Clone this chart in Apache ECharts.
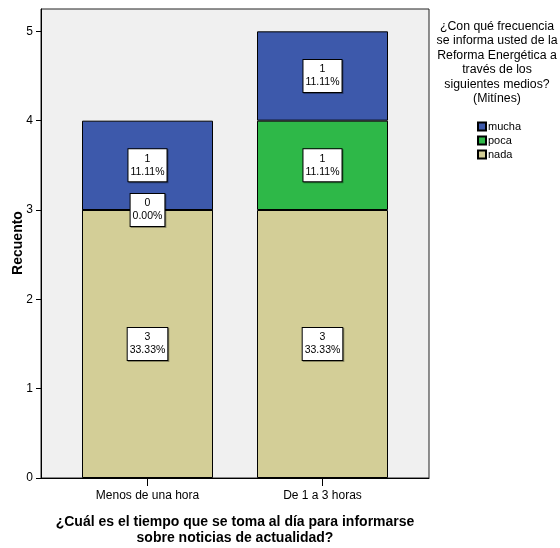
<!DOCTYPE html>
<html>
<head>
<meta charset="utf-8">
<script src="https://cdn.jsdelivr.net/npm/echarts@6/dist/echarts.min.js"></script>
<style>
html,body{margin:0;padding:0;background:#fff;}
#c{width:560px;height:548px;}
</style>
</head>
<body>
<div id="c"></div>
<script>
var categories = ['Menos de una hora', 'De 1 a 3 horas'];
var nada = [3, 3];
var poca = [0, 1];
var mucha = [1, 1];
var yTicks = [0, 1, 2, 3, 4, 5];
var legendTitle = '¿Con qué frecuencia\nse informa usted de la\nReforma Energética a\ntravés de los\nsiguientes medios?\n(Mitínes)';
var xTitle = '¿Cuál es el tiempo que se toma al día para informarse\nsobre noticias de actualidad?';
var yTitle = 'Recuento';

var total = 0;
[nada, poca, mucha].forEach(function (a) { a.forEach(function (v) { total += v; }); });

var FONT = '"Liberation Sans", Arial, sans-serif';

var labelCfg = {
  show: true,
  position: 'inside',
  formatter: function (p) {
    var v = p.value;
    return v + '\n' + (v / total * 100).toFixed(2) + '%';
  },
  color: '#000',
  fontFamily: FONT,
  fontSize: 10.5,
  lineHeight: 13,
  backgroundColor: '#fff',
  borderColor: '#000',
  borderWidth: 1,
  padding: [3, 2, 3, 2],
  shadowColor: 'rgba(0,0,0,0.35)',
  shadowOffsetX: 1,
  shadowOffsetY: 1,
  shadowBlur: 0
};
function series(name, arr, color) {
  return {
    name: name,
    type: 'bar',
    stack: 'total',
    xAxisIndex: 1,
    yAxisIndex: 1,
    barWidth: 131,
    data: arr,
    itemStyle: { color: color, borderColor: '#000', borderWidth: 1 },
    label: labelCfg,
    emphasis: { disabled: true },
    animation: false
  };
}

var chart = echarts.init(document.getElementById('c'));
chart.setOption({
  animation: false,
  grid: [
    { left: 41, top: 9, right: 131, bottom: 70,
      show: true, backgroundColor: '#f0f0f0', borderColor: '#222', borderWidth: 1 },
    { left: 60, top: 9, right: 150, bottom: 70 }
  ],
  xAxis: [
    {
      gridIndex: 0, type: 'value', min: 0, max: 1,
      splitLine: { show: false },
      axisLine: { show: true, onZero: false, lineStyle: { color: '#000', width: 1 } },
      axisTick: { show: false },
      axisLabel: { show: false }
    },
    {
      gridIndex: 1, type: 'category', data: categories,
      axisLine: { show: false },
      axisTick: { show: true, alignWithLabel: true, length: 8, lineStyle: { color: '#000' } },
      axisLabel: { color: '#000', fontFamily: FONT, fontSize: 12, margin: 12, interval: 0 }
    }
  ],
  yAxis: [
    {
      gridIndex: 0, type: 'value', min: 0, max: 5.25,
      splitLine: { show: false },
      axisLine: { show: true, onZero: false, lineStyle: { color: '#000', width: 1 } },
      axisTick: { show: true, inside: false, length: 5, customValues: yTicks, lineStyle: { color: '#000' } },
      axisLabel: { customValues: yTicks, color: '#000', fontFamily: FONT, fontSize: 12, margin: 8 }
    },
    {
      gridIndex: 1, type: 'value', min: 0, max: 5.25,
      show: false,
      splitLine: { show: false }
    }
  ],
  legend: {
    orient: 'vertical',
    left: 477,
    top: 121,
    padding: 0,
    itemWidth: 8,
    itemHeight: 8,
    itemGap: 3,
    icon: 'rect',
    data: ['mucha', 'poca', 'nada'],
    textStyle: { color: '#000', fontFamily: FONT, fontSize: 11, padding: [0, 0, 0, -3] },
    selectedMode: false
  },
  graphic: [
    {
      type: 'text',
      x: 497, y: 19,
      style: { text: legendTitle, fill: '#000', font: '12.3px ' + FONT, textAlign: 'center', lineHeight: 14.5 }
    },
    {
      type: 'text',
      x: 235, y: 514,
      style: { text: xTitle, fill: '#000', font: 'bold 14px ' + FONT, textAlign: 'center', lineHeight: 16 }
    },
    {
      type: 'text',
      x: 18, y: 243,
      rotation: Math.PI / 2,
      style: { text: yTitle, fill: '#000', font: 'bold 14px ' + FONT, textAlign: 'center', textVerticalAlign: 'middle' }
    }
  ],
  series: [
    series('nada', nada, '#d3ce97'),
    series('poca', poca, '#2eb848'),
    series('mucha', mucha, '#3d59ab')
  ]
});
</script>
</body>
</html>
